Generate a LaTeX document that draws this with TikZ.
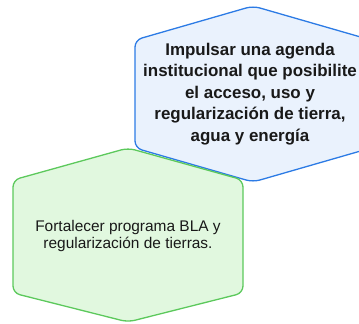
\documentclass[tikz,border=0pt]{standalone}
\usepackage{fontspec}
\setmainfont{Liberation Sans}
\definecolor{bluefill}{HTML}{EAF2FD}
\definecolor{bluestroke}{HTML}{2C7BE5}
\definecolor{greenfill}{HTML}{E1F8DF}
\definecolor{greenstroke}{HTML}{5CC95C}
\begin{document}
\begin{tikzpicture}[x=1bp,y=-1bp,
  hexblue/.style={draw=bluestroke,fill=bluefill,line width=1.3bp,rounded corners=7bp},
  hexgreen/.style={draw=greenstroke,fill=greenfill,line width=1.3bp,rounded corners=7bp},
  txt/.style={align=center,inner sep=0pt,text=black!90}]
\useasboundingbox (0,0) rectangle (359,324);
\clip (0,0) rectangle (359,324);
\draw[hexblue] (253,6) -- (371,40) -- (371,148) -- (253,182) -- (135,148) -- (135,40) -- cycle;
\node[txt,font=\bfseries\fontsize{17}{21.5}\selectfont] (blue) at (250,94)
  {Impulsar una agenda\\institucional que posibilite\\el acceso, uso y\\regularización de tierra,\\agua y energía};
\draw[hexgreen] (128,148) -- (243,180) -- (243,293) -- (128,322) -- (13,293) -- (13,180) -- cycle;
\node[txt,font=\fontsize{15.5}{18}\selectfont] (green) at (128,236)
  {Fortalecer programa BLA y\\regularización de tierras.};
\end{tikzpicture}
\end{document}
